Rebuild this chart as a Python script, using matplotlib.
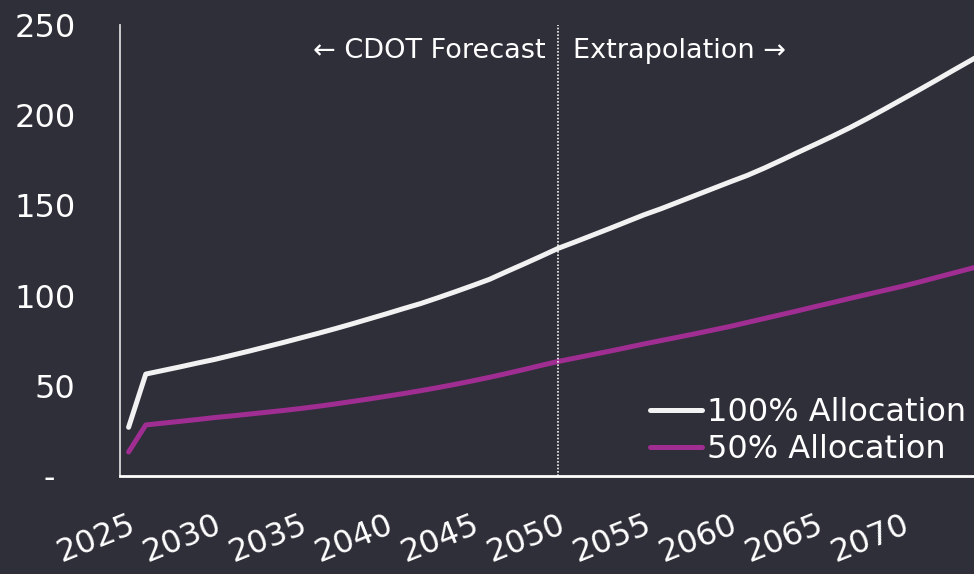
import matplotlib.pyplot as plt
import matplotlib.ticker as mticker

# ---- data ----
years = list(range(2025, 2076))
alloc_100 = [27.0, 56.5, 58.5, 60.5, 62.6, 64.6, 66.9, 69.2, 71.6, 74.0,
             76.5, 79.0, 81.6, 84.3, 87.1, 89.9, 92.8, 95.6, 98.8, 102.1,
             105.5, 109.0, 113.3, 117.5, 121.8, 126.2, 129.8, 133.5, 137.2, 141.0,
             144.8, 148.2, 151.9, 155.6, 159.3, 163.0, 166.6, 170.7, 175.1, 179.6,
             184.0, 188.5, 193.2, 198.2, 203.4, 208.7, 214.0, 219.4, 224.9, 230.3,
             235.8]
alloc_50 = [13.3, 28.3, 29.3, 30.3, 31.3, 32.4, 33.3, 34.3, 35.3, 36.3,
            37.4, 38.6, 39.9, 41.3, 42.7, 44.2, 45.7, 47.3, 49.0, 50.8,
            52.7, 54.7, 56.8, 59.0, 61.3, 63.5, 65.4, 67.3, 69.2, 71.2,
            73.2, 75.1, 77.0, 78.9, 80.9, 82.9, 85.1, 87.3, 89.5, 91.7,
            94.0, 96.2, 98.5, 100.7, 102.9, 105.1, 107.5, 110.0, 112.5, 115.0,
            117.6]
xticks = list(range(2025, 2071, 5))
yticks = [0, 50, 100, 150, 200, 250]
ytick_labels = ['-  ', '50', '100', '150', '200', '250']
split_year = 2050

BG = '#2e2f39'
WHITE = '#f2f2f2'
PURPLE = '#a02d91'

plt.rcParams['font.family'] = ['DejaVu Sans']

fig = plt.figure(figsize=(9.74, 5.74), dpi=100)
fig.set_facecolor(BG)
ax = fig.add_axes([120 / 974, 98 / 574, 1 - 120 / 974, 451 / 574])
ax.set_facecolor(BG)

ax.plot(years, alloc_100, color=WHITE, lw=3.6, solid_capstyle='round',
        solid_joinstyle='round', label='100% Allocation')
ax.plot(years, alloc_50, color=PURPLE, lw=3.6, solid_capstyle='round',
        solid_joinstyle='round', label='50% Allocation')

ax.axvline(split_year, color=WHITE, lw=1.2, linestyle=(0, (1, 1)))
ax.text(split_year - 0.75, 235.5, '\u2190 CDOT Forecast', color='white',
        fontsize=19.5, ha='right', va='center')
ax.text(split_year + 0.85, 235.5, 'Extrapolation \u2192', color='white',
        fontsize=19.5, ha='left', va='center')

ax.set_xlim(2024.5, 2074.2)
ax.set_ylim(0, 250)
ax.set_xticks(xticks)
ax.set_yticks(yticks)
ax.set_yticklabels(ytick_labels)
ax.tick_params(axis='both', length=0, colors='white')
ax.tick_params(axis='y', pad=32, labelsize=23)
ax.tick_params(axis='x', pad=24, labelsize=23)
for lbl in ax.get_xticklabels():
    lbl.set_rotation(22)
    lbl.set_ha('right')
    lbl.set_va('top')
    lbl.set_rotation_mode('anchor')

for side in ['top', 'right']:
    ax.spines[side].set_visible(False)
ax.spines['left'].set_color('#d8d8d8')
ax.spines['left'].set_linewidth(1.3)
ax.spines['bottom'].set_color('white')
ax.spines['bottom'].set_linewidth(2)

leg = ax.legend(loc='lower right', bbox_to_anchor=(1.006, -0.005), frameon=False,
                fontsize=23, labelcolor='white', handlelength=1.65,
                handletextpad=0.15, labelspacing=0.2, borderaxespad=0.0)

fig.savefig('out.png', dpi=100, facecolor=BG)
